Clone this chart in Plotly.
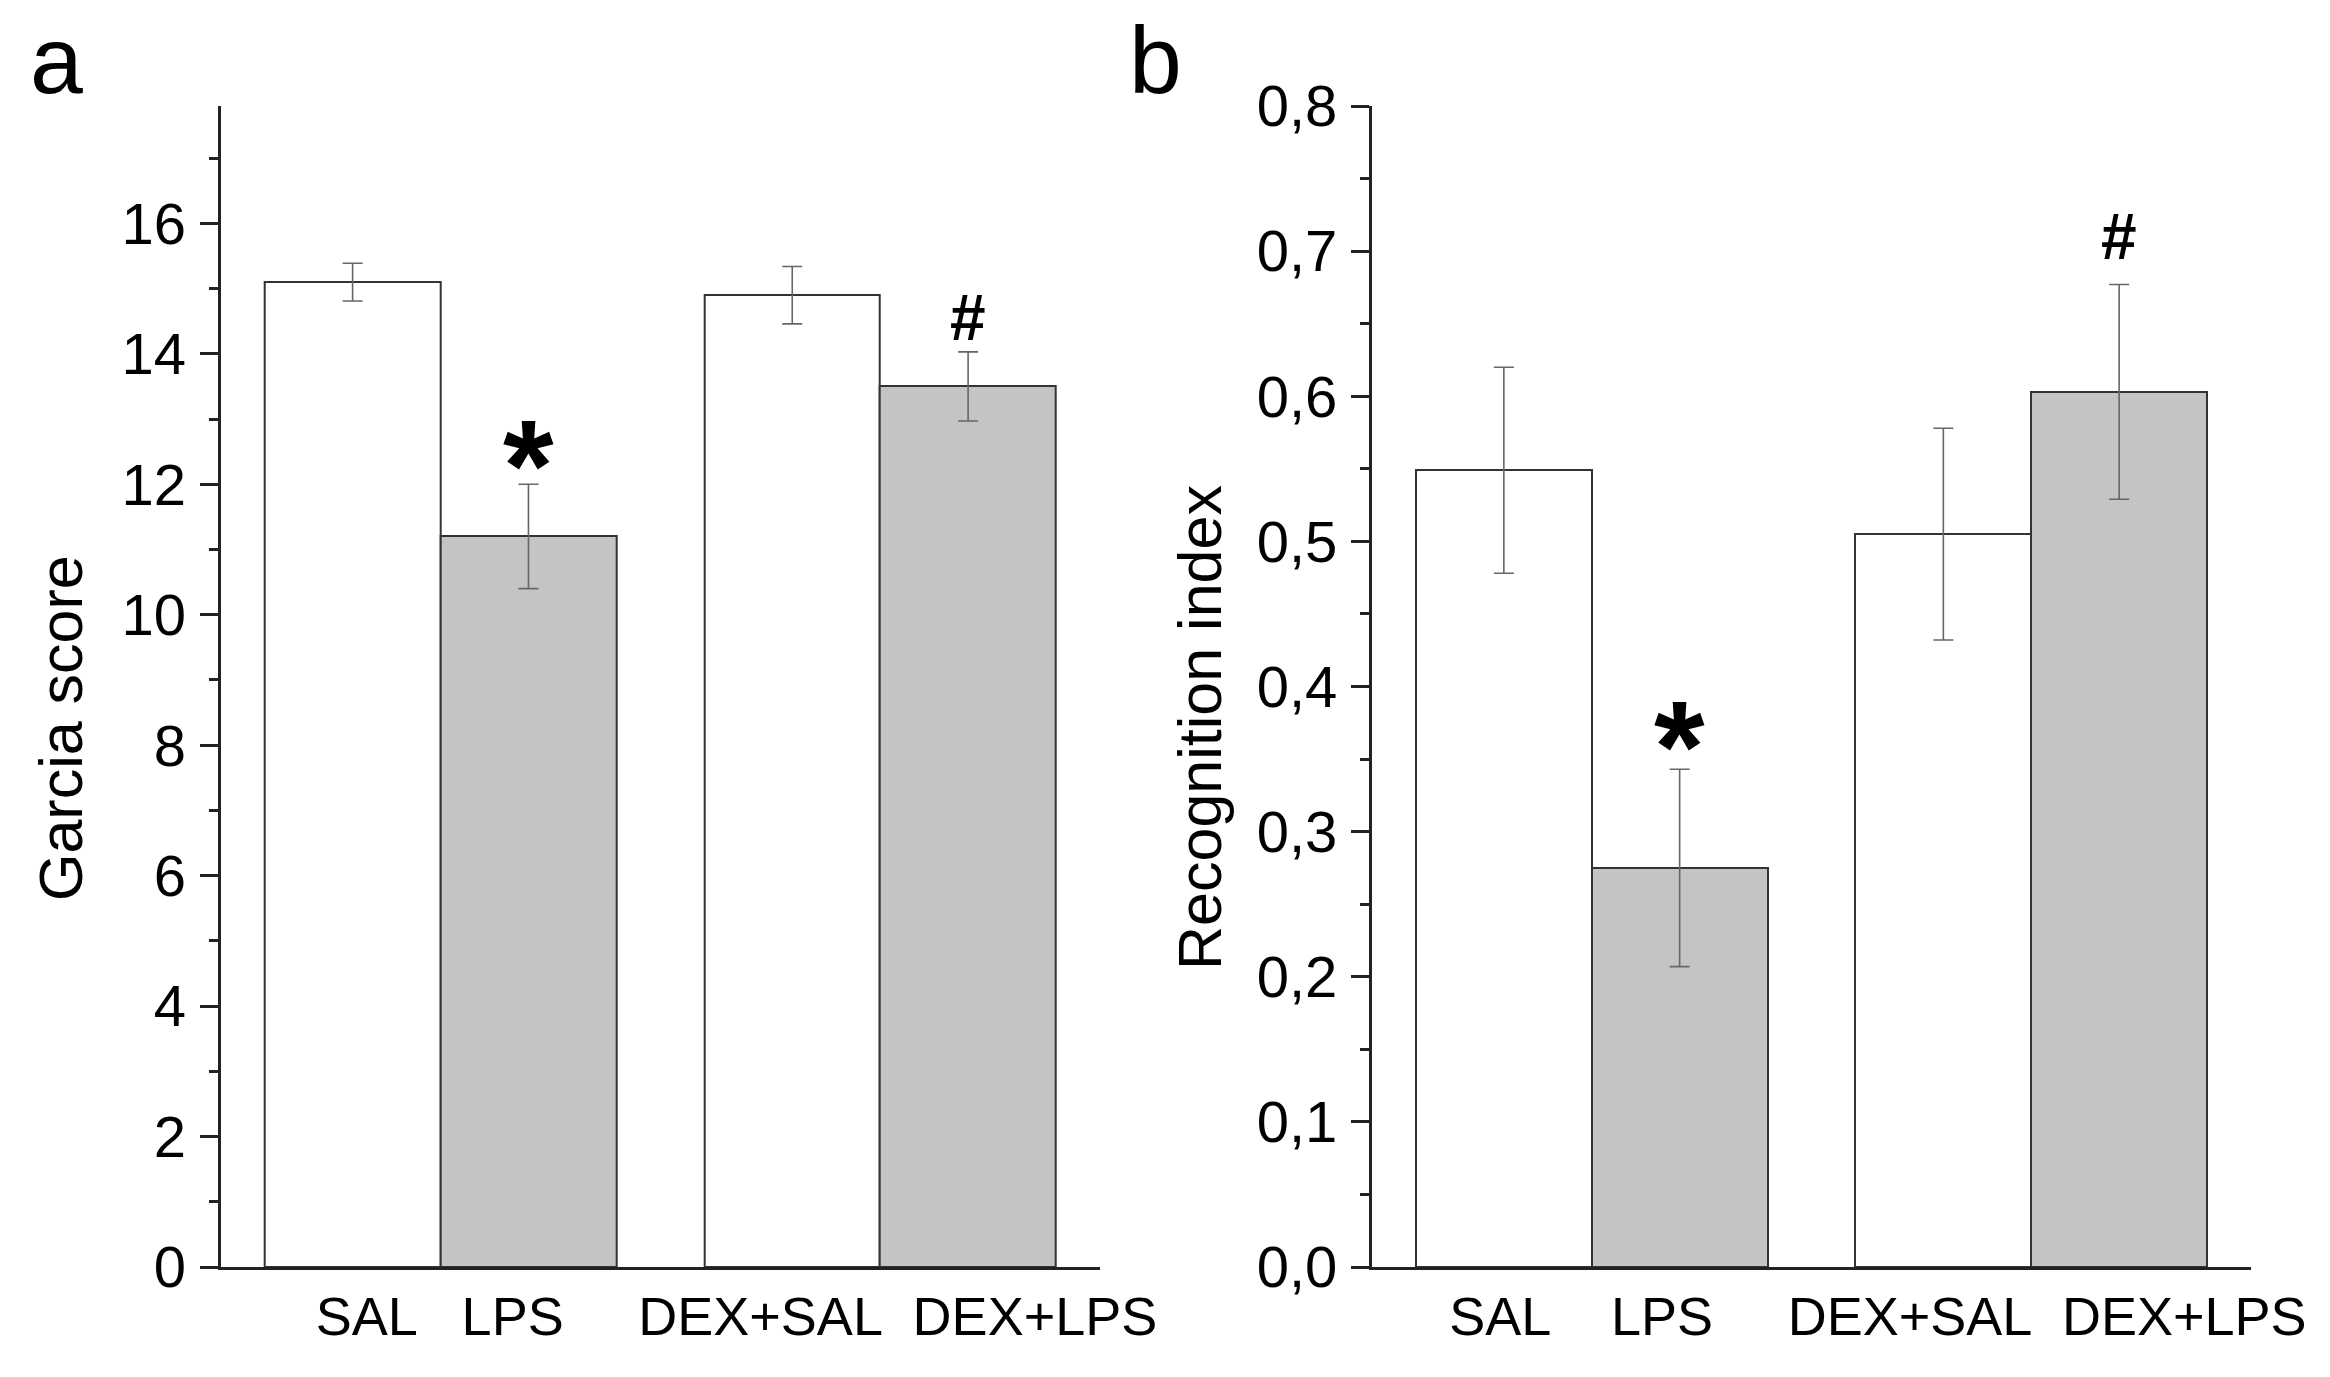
import plotly.graph_objects as go

groups = ["SAL", "LPS", "DEX+SAL", "DEX+LPS"]
garcia_mean = [15.1, 11.2, 14.9, 13.5]
garcia_sem = [0.29, 0.8, 0.44, 0.53]
recog_mean = [0.549, 0.275, 0.505, 0.603]
recog_sem = [0.071, 0.068, 0.073, 0.074]

# layout of the bars on the x axis (two pairs with a gap between them)
bar_pos = [0.75, 1.75, 3.25, 4.25]
label_pos_a = [0.83, 1.66, 3.07, 4.63]
label_pos_b = [0.73, 1.65, 3.06, 4.62]
fills = ["white", "#c4c4c4", "white", "#c4c4c4"]

FONT = "Liberation Sans, Arial, sans-serif"
AX = "#222222"

fig = go.Figure()


def bars(means, sems, xa, ya):
    return go.Bar(
        x=bar_pos, y=means, width=1.0, xaxis=xa, yaxis=ya,
        marker=dict(color=fills, line=dict(color="#333333", width=2)),
        error_y=dict(type="data", array=sems, visible=True,
                     color="#666666", thickness=1.6, width=10),
        showlegend=False, hoverinfo="skip",
    )


fig.add_trace(bars(garcia_mean, garcia_sem, "x", "y"))
fig.add_trace(bars(recog_mean, recog_sem, "x2", "y2"))

W, H = 2330, 1377
ydom = [1 - 1267 / H, 1 - 106 / H]

xcommon = dict(range=[0, 5], showline=True, linecolor=AX, linewidth=3,
               ticks="", showgrid=False, zeroline=False, automargin=False,
               tickfont=dict(family=FONT, size=54, color="black"),
               ticklabelstandoff=0)
ycommon = dict(showline=True, linecolor=AX, linewidth=3, ticks="outside",
               ticklen=18, tickwidth=3, tickcolor=AX, showgrid=False,
               zeroline=False, automargin=False,
               tickfont=dict(family=FONT, size=58, color="black"),
               ticklabelstandoff=2)

fig.update_layout(
    template="none",
    width=W, height=H, margin=dict(l=0, r=0, t=0, b=0, autoexpand=False),
    paper_bgcolor="white", plot_bgcolor="white", showlegend=False,
    separators=",.", bargap=0,
    xaxis=dict(domain=[220.7 / W, 1100 / W], tickvals=label_pos_a,
               ticktext=groups, anchor="y", **xcommon),
    xaxis2=dict(domain=[1372 / W, 2251 / W], tickvals=label_pos_b,
                ticktext=groups, anchor="y2", **xcommon),
    yaxis=dict(domain=ydom, range=[0, 17.8], tickvals=list(range(0, 17, 2)),
               minor=dict(dtick=1, ticks="outside", ticklen=9, tickwidth=3,
                          tickcolor=AX),
               anchor="x", **ycommon),
    yaxis2=dict(domain=ydom, range=[0, 0.8], dtick=0.1, tickformat=".1f",
                minor=dict(dtick=0.05, ticks="outside", ticklen=9, tickwidth=3,
                           tickcolor=AX),
                anchor="x2", **ycommon),
)

# axis titles
for xp, txt in [(61, "Garcia score"), (1200, "Recognition index")]:
    fig.add_annotation(x=xp / W, y=1 - 728 / H, xref="paper", yref="paper",
                       text=txt, textangle=-90, showarrow=False,
                       font=dict(family=FONT, size=61, color="black"),
                       xanchor="center", yanchor="middle")

# panel letters
for xp, txt in [(28, "a"), (1127, "b")]:
    fig.add_annotation(x=xp / W, y=1 - 5 / H, xref="paper", yref="paper",
                       text=txt, showarrow=False,
                       font=dict(family=FONT, size=95, color="black"),
                       xanchor="left", yanchor="top")

# significance marks
marks = [("x", "y", 1.75, 12.56, "*", -18), ("x", "y", 4.25, 14.55, "#", 0),
         ("x2", "y2", 1.75, 0.3734, "*", -22), ("x2", "y2", 4.25, 0.710, "#", 0)]
for xa, ya, xv, yv, s, shift in marks:
    big = s == "*"
    fig.add_annotation(x=xv, y=yv, xref=xa, yref=ya, text="<b>%s</b>" % s,
                       showarrow=False, xanchor="center", yanchor="middle",
                       yshift=shift,
                       font=dict(family=FONT, size=130 if big else 64,
                                 color="black", weight="bold"))

fig.write_html("out.html", config={"displayModeBar": False},
               post_script="document.body.style.margin='0';")
